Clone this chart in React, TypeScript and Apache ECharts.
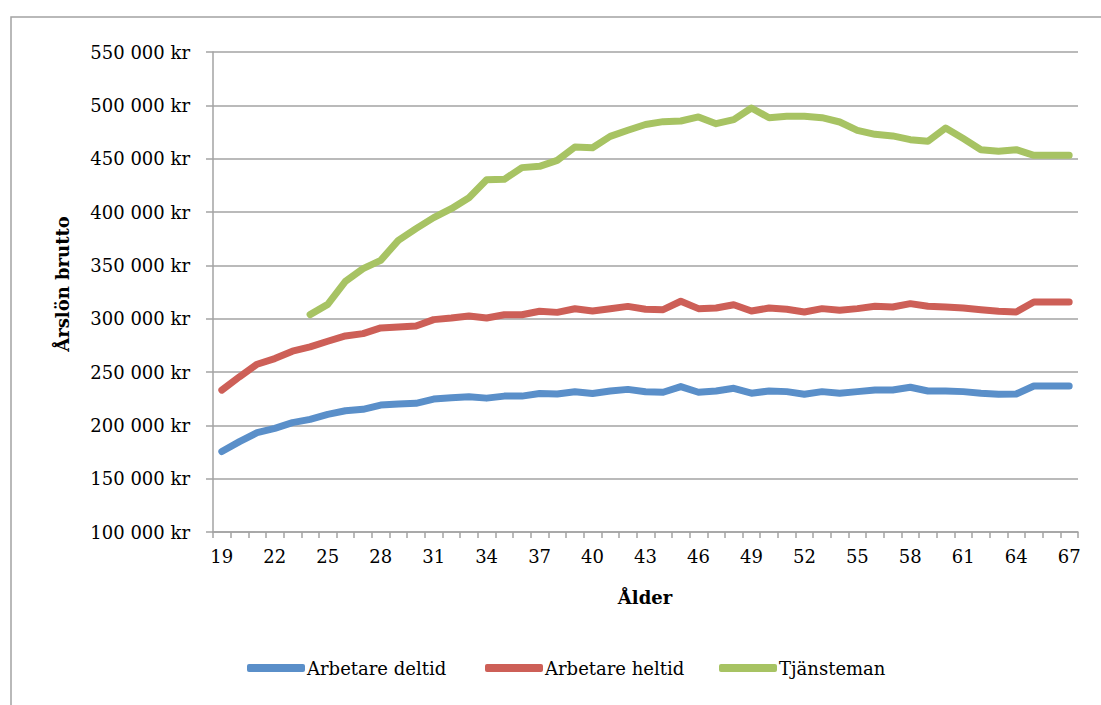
import React, { useEffect, useRef } from "react";
import * as echarts from "echarts";

const ages: string[] = [
  "19","20","21","22","23","24","25","26","27","28","29","30","31","32","33","34","35","36","37","38","39","40","41","42","43",
  "44","45","46","47","48","49","50","51","52","53","54","55","56","57","58","59","60","61","62","63","64","65","66","67",
];

const arbetareDeltid: number[] = [
  175400, 184700, 193100, 197200, 202500, 205600, 210300, 213700, 215000, 219000, 220000, 220600, 224600, 225900, 226800,
  225500, 227400, 227400, 229900, 229300, 231500, 229900, 232100, 233700, 231400,
  231000, 236300, 231000, 232200, 234700, 230100, 232200, 231600, 229100, 231600, 230100, 231600, 233200, 233200, 235700,
  232200, 232200, 231600, 230100, 229100, 229400, 236900, 236900, 236900,
];

const arbetareHeltid: number[] = [
  233000, 245500, 257300, 262600, 269500, 273500, 278800, 283800, 286000, 291300, 292200, 293100, 299100, 300600, 302500,
  300600, 303700, 303700, 306900, 305900, 309300, 307200, 309300, 311500, 308800,
  308400, 316300, 309400, 310000, 313100, 307200, 310000, 308800, 306300, 309400, 307800, 309400, 311600, 310900, 314100,
  311600, 310900, 310000, 308400, 306900, 306300, 315600, 315600, 315600,
];

const tjansteman: (number | null)[] = [
  null, null, null, null, null, 303800, 313400, 335000, 346900, 354700, 373400, 384400, 394700, 403100, 413400,
  430300, 430600, 441600, 442800, 448400, 460900, 460300, 470900, 476600, 482000,
  484700, 485300, 489100, 482800, 486600, 497500, 488400, 489700, 489700, 488400, 484400, 476600, 472800, 471300, 467800,
  466300, 478800, 468800, 458400, 456900, 458400, 453100, 453100, 453100,
];

const seriesNames: string[] = ["Arbetare deltid", "Arbetare heltid", "Tjänsteman"];
const seriesColors: string[] = ["#5A8FC9", "#CD5F57", "#A7C363"];

const yMin = 100000;
const yMax = 550000;
const yStep = 50000;

const FONT = "'DejaVu Serif', 'Liberation Serif', serif";
const GRAY = "#A3A3A3";

function fmtKr(v: number): string {
  return String(v).replace(/\B(?=(\d{3})+(?!\d))/g, " ") + " kr";
}

export default function App() {
  const ref = useRef<HTMLDivElement>(null);

  useEffect(() => {
    if (!ref.current) return;
    const chart = echarts.init(ref.current, undefined, { renderer: "svg" });
    const allData = [arbetareDeltid, arbetareHeltid, tjansteman];
    const legendLefts = [247, 485, 719];

    chart.setOption({
      animation: false,
      backgroundColor: "#ffffff",
      grid: { left: 213, right: 23, top: 52, bottom: 173, containLabel: false },
      legend: seriesNames.map((name, i) => ({
        data: [name],
        left: legendLefts[i],
        top: 659,
        icon: "roundRect",
        itemWidth: 58,
        itemHeight: 8,
        itemGap: 0,
        padding: 0,
        textStyle: { fontFamily: FONT, fontSize: 18, color: "#000", padding: [0, 0, 0, -3] },
        selectedMode: false,
      })),
      xAxis: {
        type: "category",
        data: ages,
        boundaryGap: true,
        axisLine: { show: true, lineStyle: { color: GRAY, width: 1.5 } },
        axisTick: { show: true, interval: 0, length: 6, lineStyle: { color: GRAY, width: 1.5 } },
        axisLabel: { interval: 2, margin: 15, fontFamily: FONT, fontSize: 18, color: "#000" },
        splitLine: { show: false },
      },
      yAxis: {
        type: "value",
        min: yMin,
        max: yMax,
        interval: yStep,
        axisLine: { show: true, lineStyle: { color: GRAY, width: 1.5 } },
        axisTick: { show: true, length: 7, lineStyle: { color: GRAY, width: 1.5 } },
        axisLabel: { margin: 23, fontFamily: FONT, fontSize: 18, color: "#000", formatter: (v: number) => fmtKr(v) },
        splitLine: { show: true, lineStyle: { color: GRAY, width: 1.5 } },
      },
      graphic: [
        {
          type: "rect",
          shape: { x: 11, y: 17, width: 1300, height: 900 },
          style: { fill: "none", stroke: GRAY, lineWidth: 1.5 },
          silent: true,
        },
        {
          type: "text",
          x: 62,
          y: 284,
          rotation: Math.PI / 2,
          style: {
            text: "Årslön brutto",
            fontFamily: FONT,
            fontSize: 18,
            fontWeight: "bold",
            fill: "#000",
            textAlign: "center",
            textVerticalAlign: "middle",
          },
        },
        {
          type: "text",
          x: 645,
          y: 597,
          style: {
            text: "Ålder",
            fontFamily: FONT,
            fontSize: 18,
            fontWeight: "bold",
            fill: "#000",
            textAlign: "center",
            textVerticalAlign: "middle",
          },
        },
      ],
      series: seriesNames.map((name, i) => ({
        name,
        type: "line",
        data: allData[i],
        showSymbol: false,
        symbol: "none",
        connectNulls: false,
        color: seriesColors[i],
        lineStyle: { color: seriesColors[i], width: 7, cap: "round", join: "round" },
        itemStyle: { color: seriesColors[i] },
      })),
    });

    return () => {
      chart.dispose();
    };
  }, []);

  return (
    <div
      ref={ref}
      style={{ position: "fixed", left: 0, top: 0, width: "1101px", height: "705px", background: "#fff" }}
    />
  );
}
